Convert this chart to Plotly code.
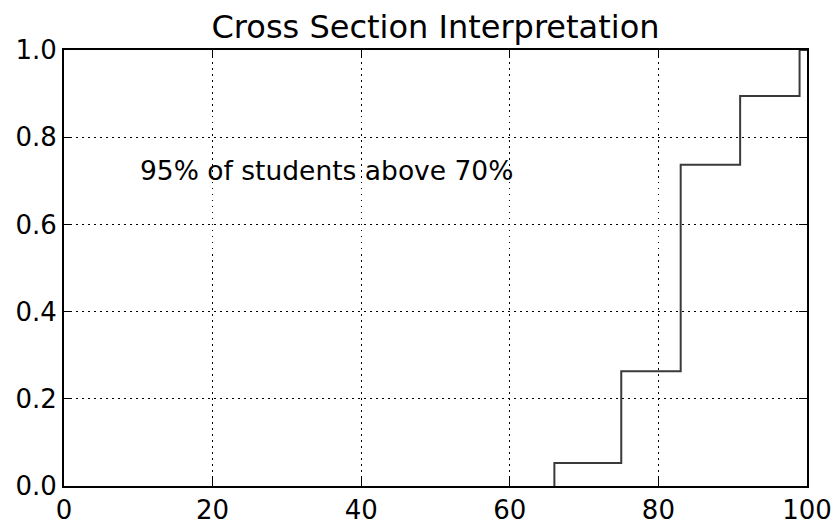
import numpy as np
import plotly.graph_objects as go

# Exam scores (percent) and how many students got each score
scores = [66, 75, 83, 91, 99]
counts = [1, 4, 9, 3, 2]

x_ticks = [0, 20, 40, 60, 80, 100]
y_ticks = [0.0, 0.2, 0.4, 0.6, 0.8, 1.0]

title_text = "Cross Section Interpretation"
note_text = "95% of students above 70%"

# Cumulative fraction of students at or below each score
cum = np.cumsum(counts) / np.sum(counts)

# Build the step outline of the cumulative distribution
xs, ys = [scores[0]], [0.0]
for s, c in zip(scores, cum):
    xs += [s, s]
    ys += [ys[-1], c]
xs = xs[1:]
ys = ys[1:]
xs.append(100)
ys.append(cum[-1])

font = "DejaVu Sans"

fig = go.Figure()
fig.add_trace(go.Scatter(
    x=xs, y=ys, mode="lines",
    line=dict(color="#3a3a3a", width=2, shape="linear"),
    hoverinfo="skip", showlegend=False,
))

axis_common = dict(
    showline=True, linecolor="black", linewidth=2, mirror="ticks",
    ticks="inside", ticklen=8, tickwidth=1, tickcolor="black",
    showgrid=True, gridcolor="black", gridwidth=1, griddash="1.5px,4.5px",
    zeroline=False, automargin=False,
    tickfont=dict(family=font, size=26, color="black"),
)

fig.update_xaxes(range=[0, 100], tickvals=x_ticks,
                 ticktext=[str(v) for v in x_ticks], **axis_common)
fig.update_yaxes(range=[0, 1], tickvals=y_ticks,
                 ticktext=[f"{v:.1f}" for v in y_ticks], **axis_common)

fig.add_annotation(
    x=10, y=0.7, xref="x", yref="y", text=note_text, showarrow=False,
    xanchor="left", yanchor="bottom", yshift=-7,
    font=dict(family=font, size=26.5, color="black"),
)

fig.update_layout(
    width=837, height=526,
    margin=dict(l=64, r=30, t=50, b=40),
    paper_bgcolor="white", plot_bgcolor="white",
    title=dict(text=title_text, x=0.5, xref="paper", xanchor="center",
               y=1, yref="paper", yanchor="bottom", pad=dict(b=12),
               font=dict(family=font, size=32, color="black")),
)

fig.write_html("out.html")
